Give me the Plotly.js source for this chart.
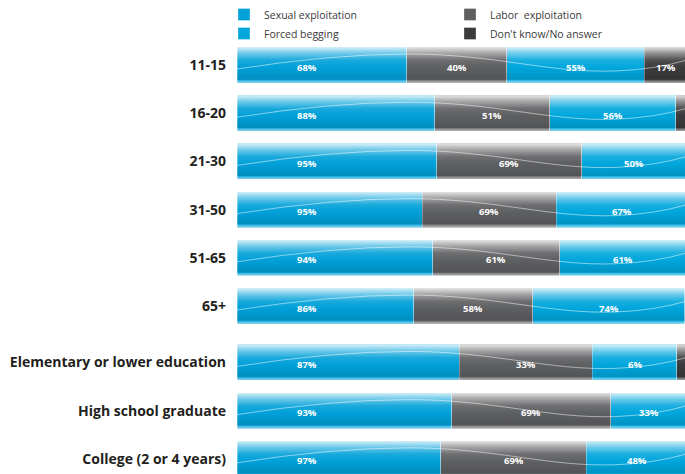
<!DOCTYPE html>
<html>
<head>
<meta charset="utf-8">
<script src="https://cdn.plot.ly/plotly-3.0.1.min.js"></script>
<style>html,body{margin:0;padding:0;background:#fff}#chart{width:685px;height:474px}</style>
</head>
<body>
<div id="chart"></div>
<script>
// ---- data ----
const categories = ['11-15', '16-20', '21-30', '31-50', '51-65', '65+',
  'Elementary or lower education', 'High school graduate', 'College (2 or 4 years)'];
const sexualExploitation = [68, 88, 95, 95, 94, 86, 87, 93, 97];
const laborExploitation  = [40, 51, 69, 69, 61, 58, 52, 69, 69];
const forcedBegging      = [55, 56, 50, 67, 61, 74, 33, 33, 48];
const dontKnow           = [17, 5, 0, 0, 0, 1, 4, 0, 0];
const sexualLabels   = ['68%', '88%', '95%', '95%', '94%', '86%', '87%', '93%', '97%'];
const laborLabels    = ['40%', '51%', '69%', '69%', '61%', '58%', '33%', '69%', '69%'];
const beggingLabels  = ['55%', '56%', '50%', '67%', '61%', '74%', '6%', '33%', '48%'];
const dontKnowLabels = ['17%', '', '', '', '', '', '', '', ''];

// ---- layout helpers ----
const GROUP_GAP = 0.17;
const yPos = categories.map((c, i) => (i < 6 ? i : i + GROUP_GAP));
const BAR_W = 0.75;
const HALF = BAR_W / 2;

const series = [
  {name: 'Sexual exploitation', values: sexualExploitation, color: '#00a0d8', labels: sexualLabels},
  {name: 'Labor  exploitation', values: laborExploitation, color: '#5e5f61', labels: laborLabels},
  {name: 'Forced begging', values: forcedBegging, color: '#00a6dc', labels: beggingLabels},
  {name: "Don't know/No answer", values: dontKnow, color: '#3b3b3d', labels: dontKnowLabels}
];

const totals = categories.map((c, i) => series.reduce((s, se) => s + se.values[i], 0));

const traces = series.map(se => ({
  type: 'bar',
  orientation: 'h',
  name: se.name,
  x: se.values,
  y: yPos,
  width: BAR_W,
  marker: {color: se.color, line: {color: 'rgba(255,255,255,0.55)', width: 0.6}},
  hoverinfo: 'name+x'
}));

// glossy overlays (top highlight, bottom shade, bottom rim) and the decorative wave
const WAVE_X = [0, 38, 84, 100];
const WAVE_DY = [0.083, -0.228, 0.124, -0.104];
yPos.forEach(y => {
  traces.push({
    type: 'scatter', mode: 'lines', showlegend: false, hoverinfo: 'skip',
    x: [0, 100, 100, 0, 0], y: [y - HALF, y - HALF, y + 0.05, y + 0.05, y - HALF],
    fill: 'toself', line: {width: 0},
    fillgradient: {type: 'vertical', start: y - HALF, stop: y + 0.05,
      colorscale: [[0, 'rgba(255,255,255,0.85)'], [0.3, 'rgba(255,255,255,0.45)'], [0.65, 'rgba(255,255,255,0.1)'], [1, 'rgba(255,255,255,0)']]}
  });
  traces.push({
    type: 'scatter', mode: 'lines', showlegend: false, hoverinfo: 'skip',
    x: [0, 100, 100, 0, 0], y: [y + 0.05, y + 0.05, y + HALF - 0.07, y + HALF - 0.07, y + 0.05],
    fill: 'toself', line: {width: 0},
    fillgradient: {type: 'vertical', start: y + 0.05, stop: y + HALF - 0.07,
      colorscale: [[0, 'rgba(0,0,0,0)'], [1, 'rgba(0,0,0,0.12)']]}
  });
  traces.push({
    type: 'scatter', mode: 'lines', showlegend: false, hoverinfo: 'skip',
    x: [0, 100, 100, 0, 0], y: [y + HALF - 0.07, y + HALF - 0.07, y + HALF, y + HALF, y + HALF - 0.07],
    fill: 'toself', line: {width: 0},
    fillgradient: {type: 'vertical', start: y + HALF - 0.07, stop: y + HALF,
      colorscale: [[0, 'rgba(255,255,255,0.1)'], [1, 'rgba(255,255,255,0.6)']]}
  });
  traces.push({
    type: 'scatter', mode: 'lines', showlegend: false, hoverinfo: 'skip',
    x: WAVE_X, y: WAVE_DY.map(d => y + d),
    line: {color: 'rgba(255,255,255,0.5)', width: 1, shape: 'spline', smoothing: 1.3}
  });
});

// value labels
const annotations = [];
categories.forEach((c, i) => {
  let cum = 0;
  series.forEach((se, k) => {
    const share = se.values[i] / totals[i] * 100;
    const xc = k === 0 ? 15.6 : cum + share / 2;
    cum += share;
    if (se.labels[i]) {
      annotations.push({
        x: xc, y: yPos[i], xref: 'x', yref: 'y', text: se.labels[i], showarrow: false,
        yshift: -2,
        font: {family: 'Open Sans', size: 9.5, color: '#ffffff', weight: 'bold'}
      });
    }
  });
});

const yBottom = yPos[yPos.length - 1] + 0.315;
const layout = {
  width: 685, height: 474,
  margin: {l: 237, r: 0, t: 40, b: 0, autoexpand: false},
  paper_bgcolor: '#ffffff', plot_bgcolor: '#ffffff',
  barmode: 'stack', barnorm: 'percent',
  showlegend: true,
  legend: {
    orientation: 'h', traceorder: 'normal',
    xref: 'container', x: 0.327, xanchor: 'left',
    yref: 'container', y: 1, yanchor: 'top',
    entrywidth: 181, entrywidthmode: 'pixels',
    font: {family: 'Open Sans', size: 10.5, color: '#3a3a3a'},
    bgcolor: 'rgba(0,0,0,0)', tracegroupgap: 0, itemclick: false
  },
  xaxis: {range: [0, 99.56], visible: false, fixedrange: true},
  yaxis: {
    range: [yBottom, -0.519], tickvals: yPos, ticktext: categories,
    showgrid: false, zeroline: false, showline: false, ticks: '',
    ticklabelstandoff: 10,
    tickfont: {family: 'Open Sans', size: 14, color: '#231f20', weight: 'bold'},
    fixedrange: true
  },
  annotations: annotations
};

Plotly.newPlot('chart', traces, layout, {displayModeBar: false, staticPlot: true});
</script>
</body>
</html>
